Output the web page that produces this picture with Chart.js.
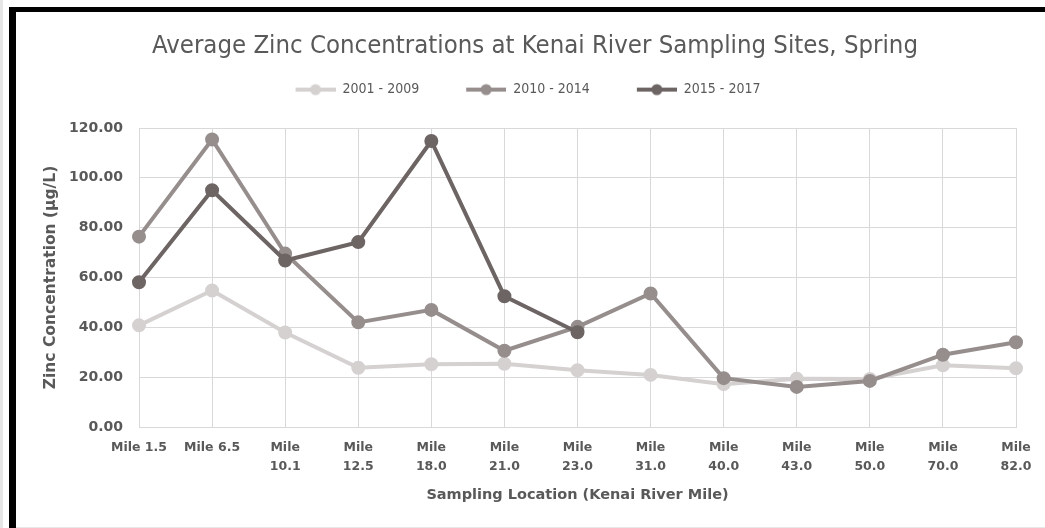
<!DOCTYPE html>
<html>
<head>
<meta charset="utf-8">
<script src="https://cdn.jsdelivr.net/npm/chart.js@4.4.0/dist/chart.umd.min.js"></script>
<style>
  html, body { margin: 0; padding: 0; background: #ffffff; }
  body { width: 1045px; height: 528px; position: relative; overflow: hidden; }
  #strip { position: absolute; left: 0; top: 0; width: 3px; height: 528px; background: #e6e6e6; }
  #frame { position: absolute; left: 9px; top: 7px; right: 0; bottom: 0;
           border-left: 7px solid #000; border-top: 5px solid #000; }
  #bottomline { position: absolute; left: 16px; right: 0; top: 527px; height: 1px; background: #e8e8e8; }
  #wrap { position: absolute; left: 0; top: 0; width: 1045px; height: 528px; }
</style>
</head>
<body>
<div id="strip"></div>
<div id="frame"></div>
<div id="bottomline"></div>
<div id="wrap"><canvas id="c" width="1045" height="528"></canvas></div>
<script>
const categories = [
  ['Mile 1.5'], ['Mile 6.5'], ['Mile', '10.1'], ['Mile', '12.5'], ['Mile', '18.0'],
  ['Mile', '21.0'], ['Mile', '23.0'], ['Mile', '31.0'], ['Mile', '40.0'], ['Mile', '43.0'],
  ['Mile', '50.0'], ['Mile', '70.0'], ['Mile', '82.0']
];
const seriesNames = ['2001 - 2009', '2010 - 2014', '2015 - 2017'];
const zinc2001_2009 = [40.8, 54.8, 37.9, 23.8, 25.2, 25.4, 22.8, 20.9, 17.2, 19.4, 19.3, 24.8, 23.6];
const zinc2010_2014 = [76.4, 115.4, 69.6, 42.0, 47.0, 30.6, 40.2, 53.6, 19.6, 16.1, 18.5, 29.0, 34.0];
const zinc2015_2017 = [58.1, 95.0, 66.8, 74.2, 114.8, 52.5, 38.0, null, null, null, null, null, null];
const yTicks = [0, 20, 40, 60, 80, 100, 120];

const colors = ['#d5d1d1', '#968d8d', '#6d6464'];
const FONT_TEXT = "'Liberation Sans Narrow', 'DejaVu Sans Condensed', 'Liberation Sans', sans-serif";
const FONT_AXIS = "'DejaVu Sans', 'Noto Sans', sans-serif";
const TXT = '#595959';

const MARK_BLANK = 26, MARK_LEN = 40;
function legendMarker(color) {
  const cv = document.createElement('canvas');
  cv.width = MARK_BLANK + MARK_LEN; cv.height = 14;
  const g = cv.getContext('2d');
  g.strokeStyle = color; g.lineWidth = 4; g.lineCap = 'butt';
  g.beginPath(); g.moveTo(MARK_BLANK, 7); g.lineTo(MARK_BLANK + MARK_LEN, 7); g.stroke();
  g.fillStyle = color;
  g.beginPath(); g.arc(MARK_BLANK + MARK_LEN / 2, 7, 5.5, 0, Math.PI * 2); g.fill();
  return cv;
}

const values = [zinc2001_2009, zinc2010_2014, zinc2015_2017];
const datasets = values.map((v, i) => ({
  label: seriesNames[i],
  data: v,
  borderColor: colors[i],
  backgroundColor: colors[i],
  pointBackgroundColor: colors[i],
  pointBorderColor: colors[i],
  borderWidth: 4,
  pointRadius: 5,
  pointHoverRadius: 5,
  tension: 0,
  spanGaps: false,
  order: 3 - i,
  pointStyle: 'circle'
}));

const shiftLegend = {
  id: 'shiftLegend',
  afterLayout(chart) {
    if (chart.legend) { chart.legend.left -= 20; chart.legend.right -= 20; }
  }
};

new Chart(document.getElementById('c'), {
  type: 'line',
  data: { labels: categories, datasets },
  plugins: [shiftLegend],
  options: {
    responsive: false,
    animation: false,
    devicePixelRatio: 1,
    layout: { padding: { top: 0, left: 54, right: 29, bottom: 26 } },
    plugins: {
      tooltip: { enabled: false },
      title: {
        display: true,
        text: 'Average Zinc Concentrations at Kenai River Sampling Sites, Spring',
        color: TXT,
        font: { family: FONT_TEXT, size: 25.5, weight: 'normal' },
        padding: { top: 31, bottom: 0 }
      },
      subtitle: {
        display: true,
        text: ' ',
        weight: 500,
        font: { size: 8 },
        padding: { top: 0, bottom: 11.8 }
      },
      legend: {
        display: true,
        position: 'top',
        sort: (a, b) => a.datasetIndex - b.datasetIndex,
        labels: {
          color: TXT,
          font: { family: FONT_TEXT, size: 14 },
          usePointStyle: true,
          pointStyleWidth: MARK_BLANK + MARK_LEN,
          boxHeight: 14,
          padding: 21,
          generateLabels: (chart) => chart.data.datasets.map((ds, i) => ({
            text: ds.label,
            fillStyle: ds.borderColor,
            strokeStyle: ds.borderColor,
            fontColor: TXT,
            lineWidth: 0,
            pointStyle: legendMarker(ds.borderColor),
            datasetIndex: i,
            hidden: false
          }))
        }
      }
    },
    scales: {
      x: {
        offset: false,
        grid: { color: '#d9d9d9', lineWidth: 1, drawTicks: false },
        border: { color: '#d9d9d9' },
        ticks: {
          color: TXT, padding: 12, maxRotation: 0, autoSkip: false,
          font: { family: FONT_AXIS, size: 12.5, weight: 'bold', lineHeight: 1.46 }
        },
        title: {
          display: true,
          text: 'Sampling Location (Kenai River Mile)',
          color: TXT,
          font: { family: FONT_AXIS, size: 14.5, weight: 'bold', lineHeight: 1 },
          padding: { top: 0, bottom: 0 }
        }
      },
      y: {
        min: 0, max: 120,
        afterBuildTicks: (s) => { s.ticks = yTicks.map(v => ({ value: v })); },
        afterFit: (s) => { s.width = 139 - 54; },
        grid: { color: '#d9d9d9', lineWidth: 1, drawTicks: false },
        border: { color: '#d9d9d9' },
        ticks: {
          color: TXT, padding: 16,
          font: { family: FONT_AXIS, size: 14, weight: 'bold' },
          callback: (v) => Number(v).toFixed(2)
        },
        title: {
          display: true,
          text: 'Zinc Concentration (µg/L)',
          color: TXT,
          font: { family: FONT_AXIS, size: 15.5, weight: 'bold' },
          padding: { top: -12.3, bottom: 0 }
        }
      }
    }
  }
});
</script>
</body>
</html>
